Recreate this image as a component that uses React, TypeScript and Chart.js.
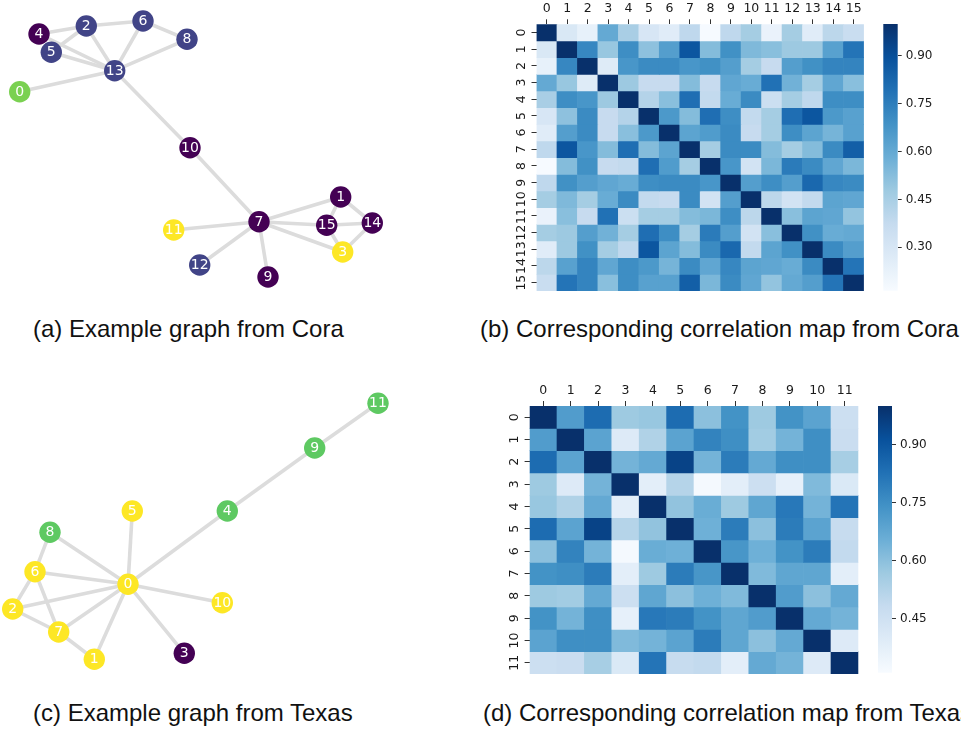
import React, { useEffect, useRef } from 'react';
import { Chart, registerables } from 'chart.js';

Chart.register(...registerables);

// ---------------- DATA ----------------
// Cora example graph (layout coordinates)
const coraNodeIds = ['0', '1', '2', '3', '4', '5', '6', '7', '8', '9', '10', '11', '12', '13', '14', '15'];
const coraNodeX = [19.7, 340.7, 86.3, 342.7, 39, 51.3, 143, 259, 187, 268, 190, 173.7, 199.7, 114.7, 372.3, 326.7];
const coraNodeY = [91.7, 197, 26, 252, 34, 52.3, 21, 221.7, 39.3, 277, 147.7, 230, 265, 70.7, 223, 225.3];
const coraNodeClass = [2, 0, 1, 3, 0, 1, 1, 0, 1, 0, 0, 3, 1, 1, 0, 0];
const coraEdges: [number, number][] = [
  [4, 2], [4, 13], [5, 2], [5, 13], [2, 13], [2, 6], [6, 13], [6, 8], [8, 13], [0, 13],
  [13, 10], [10, 7], [7, 1], [7, 15], [15, 14], [7, 3], [7, 11], [7, 12], [7, 9],
  [1, 15], [1, 14], [14, 3], [15, 3],
];

// Texas example graph (layout coordinates)
const texasNodeIds = ['0', '1', '2', '3', '4', '5', '6', '7', '8', '9', '10', '11'];
const texasNodeX = [128, 94.3, 12.7, 184.3, 227.3, 132.3, 35, 58.7, 50, 314.7, 222.3, 378];
const texasNodeY = [204.3, 279.3, 229, 273.3, 131, 131, 191.7, 252, 152.3, 68, 222.7, 23.3];
const texasNodeClass = [2, 2, 2, 0, 1, 2, 2, 2, 1, 1, 2, 1];
const texasEdges: [number, number][] = [
  [11, 9], [9, 4], [4, 0], [5, 0], [8, 0], [8, 6], [6, 0], [6, 2], [6, 7], [2, 0],
  [2, 7], [7, 0], [7, 1], [1, 0], [0, 10], [0, 3],
];

// Correlation maps
const coraLabels = ['0', '1', '2', '3', '4', '5', '6', '7', '8', '9', '10', '11', '12', '13', '14', '15'];
const coraCorr = [
  [1.00, 0.29, 0.23, 0.60, 0.45, 0.30, 0.26, 0.39, 0.17, 0.39, 0.46, 0.22, 0.46, 0.26, 0.40, 0.36],
  [0.29, 1.00, 0.72, 0.49, 0.70, 0.51, 0.64, 0.88, 0.53, 0.69, 0.54, 0.52, 0.48, 0.48, 0.63, 0.78],
  [0.23, 0.72, 1.00, 0.27, 0.67, 0.71, 0.71, 0.67, 0.69, 0.64, 0.46, 0.37, 0.64, 0.69, 0.73, 0.73],
  [0.60, 0.49, 0.27, 1.00, 0.48, 0.37, 0.37, 0.53, 0.37, 0.61, 0.59, 0.79, 0.57, 0.46, 0.61, 0.52],
  [0.45, 0.70, 0.67, 0.48, 1.00, 0.42, 0.52, 0.80, 0.38, 0.59, 0.71, 0.35, 0.46, 0.39, 0.70, 0.70],
  [0.30, 0.51, 0.71, 0.37, 0.42, 1.00, 0.66, 0.53, 0.80, 0.70, 0.38, 0.46, 0.80, 0.88, 0.66, 0.63],
  [0.26, 0.64, 0.71, 0.37, 0.52, 0.66, 1.00, 0.62, 0.65, 0.71, 0.37, 0.46, 0.70, 0.62, 0.56, 0.63],
  [0.39, 0.88, 0.67, 0.53, 0.80, 0.53, 0.62, 1.00, 0.46, 0.71, 0.71, 0.53, 0.46, 0.53, 0.71, 0.85],
  [0.17, 0.53, 0.69, 0.37, 0.38, 0.80, 0.65, 0.46, 1.00, 0.67, 0.32, 0.55, 0.76, 0.71, 0.61, 0.55],
  [0.39, 0.69, 0.64, 0.61, 0.59, 0.70, 0.71, 0.71, 0.67, 1.00, 0.64, 0.70, 0.64, 0.82, 0.72, 0.71],
  [0.46, 0.54, 0.46, 0.59, 0.71, 0.38, 0.37, 0.71, 0.32, 0.64, 1.00, 0.40, 0.32, 0.38, 0.62, 0.61],
  [0.22, 0.52, 0.37, 0.79, 0.35, 0.46, 0.46, 0.53, 0.55, 0.70, 0.40, 1.00, 0.52, 0.62, 0.61, 0.50],
  [0.46, 0.48, 0.64, 0.57, 0.46, 0.80, 0.70, 0.46, 0.76, 0.64, 0.32, 0.52, 1.00, 0.69, 0.59, 0.60],
  [0.26, 0.48, 0.69, 0.46, 0.39, 0.88, 0.62, 0.53, 0.71, 0.82, 0.38, 0.62, 0.69, 1.00, 0.71, 0.64],
  [0.40, 0.63, 0.73, 0.61, 0.70, 0.66, 0.56, 0.71, 0.61, 0.72, 0.62, 0.61, 0.59, 0.71, 1.00, 0.78],
  [0.36, 0.78, 0.73, 0.52, 0.70, 0.63, 0.63, 0.85, 0.55, 0.71, 0.61, 0.50, 0.60, 0.64, 0.78, 1.00],
];
const coraRange = [0.164, 1.0];
const coraCbarTicks = [0.30, 0.45, 0.60, 0.75, 0.90];

const texasLabels = ['0', '1', '2', '3', '4', '5', '6', '7', '8', '9', '10', '11'];
const texasCorr = [
  [1.00, 0.71, 0.84, 0.57, 0.58, 0.84, 0.60, 0.74, 0.57, 0.74, 0.69, 0.46],
  [0.71, 1.00, 0.69, 0.40, 0.53, 0.69, 0.78, 0.75, 0.56, 0.64, 0.75, 0.47],
  [0.84, 0.69, 1.00, 0.64, 0.67, 0.95, 0.64, 0.80, 0.67, 0.75, 0.75, 0.55],
  [0.57, 0.40, 0.64, 1.00, 0.38, 0.52, 0.32, 0.38, 0.46, 0.37, 0.62, 0.41],
  [0.58, 0.53, 0.67, 0.38, 1.00, 0.59, 0.66, 0.57, 0.68, 0.81, 0.64, 0.82],
  [0.84, 0.69, 0.95, 0.52, 0.59, 1.00, 0.65, 0.80, 0.60, 0.80, 0.69, 0.48],
  [0.60, 0.78, 0.64, 0.32, 0.66, 0.65, 1.00, 0.73, 0.65, 0.74, 0.80, 0.49],
  [0.74, 0.75, 0.80, 0.38, 0.57, 0.80, 0.73, 1.00, 0.62, 0.68, 0.68, 0.38],
  [0.57, 0.56, 0.67, 0.46, 0.68, 0.60, 0.65, 0.62, 1.00, 0.71, 0.60, 0.67],
  [0.74, 0.64, 0.75, 0.37, 0.81, 0.80, 0.74, 0.68, 0.71, 1.00, 0.67, 0.64],
  [0.69, 0.75, 0.75, 0.62, 0.64, 0.69, 0.80, 0.68, 0.60, 0.67, 1.00, 0.40],
  [0.46, 0.47, 0.55, 0.41, 0.82, 0.48, 0.49, 0.38, 0.67, 0.64, 0.40, 1.00],
];
const texasRange = [0.311, 1.0];
const texasCbarTicks = [0.45, 0.60, 0.75, 0.90];

const captions = [
  '(a) Example graph from Cora',
  '(b) Corresponding correlation map from Cora',
  '(c) Example graph from Texas',
  '(d) Corresponding correlation map from Texas',
];

// ---------------- STYLE ----------------
const coraPalette = ['#440154', '#414487', '#7ad151', '#fde725'];
const texasPalette = ['#440154', '#5ec962', '#fde725'];
const BLUES = ['#f7fbff', '#deebf7', '#c6dbef', '#9ecae1', '#6baed6', '#4292c6', '#2171b5', '#08519c', '#08306b'];
const TICK_FONT = { family: '"DejaVu Sans", sans-serif', size: 12.5 };
const CBAR_FONT = { family: '"DejaVu Sans", sans-serif', size: 12 };
const TEXT_COLOR = '#1a1a1a';

function hexToRgb(h: string) {
  const n = parseInt(h.slice(1), 16);
  return [(n >> 16) & 255, (n >> 8) & 255, n & 255];
}
const BLUES_RGB = BLUES.map(hexToRgb);
function blues(t: number) {
  const tt = Math.max(0, Math.min(1, t)) * (BLUES.length - 1);
  const i = Math.min(Math.floor(tt), BLUES.length - 2);
  const f = tt - i;
  const a = BLUES_RGB[i], b = BLUES_RGB[i + 1];
  const c = a.map((v, k) => Math.round(v + (b[k] - v) * f));
  return `rgb(${c[0]},${c[1]},${c[2]})`;
}

// ---------------- CONFIG BUILDERS ----------------
function graphConfig(ids: string[], xs: number[], ys: number[], cls: number[], palette: string[], edges: [number, number][], w: number, h: number): any {
  const edgeSets = edges.map(([a, b]) => ({
    type: 'line',
    data: [{ x: xs[a], y: ys[a] }, { x: xs[b], y: ys[b] }],
    borderColor: '#dcdcdc',
    borderWidth: 3.6,
    pointRadius: 0,
    order: 1,
    clip: false,
  }));
  const nodeSet = {
    type: 'scatter',
    data: xs.map((x, i) => ({ x, y: ys[i] })),
    pointRadius: 10.7,
    pointBackgroundColor: cls.map((c) => palette[c]),
    pointBorderWidth: 0,
    order: 0,
    clip: false,
  };
  const labelPlugin = {
    id: 'nodeLabels',
    afterDatasetsDraw(chart: any) {
      const idx = chart.data.datasets.length - 1;
      const meta = chart.getDatasetMeta(idx);
      const ctx = chart.ctx;
      ctx.save();
      ctx.font = '14px "DejaVu Sans", sans-serif';
      ctx.fillStyle = '#ffffff';
      ctx.textAlign = 'center';
      ctx.textBaseline = 'middle';
      meta.data.forEach((el: any, i: number) => ctx.fillText(ids[i], el.x, el.y + 0.5));
      ctx.restore();
    },
  };
  return {
    type: 'scatter',
    data: { datasets: [...edgeSets, nodeSet] },
    options: {
      animation: false,
      responsive: false,
      events: [],
      layout: { padding: 0, autoPadding: false },
      plugins: { legend: { display: false }, tooltip: { enabled: false } },
      scales: {
        x: { type: 'linear', min: 0, max: w, display: false },
        y: { type: 'linear', min: 0, max: h, reverse: true, display: false },
      },
    },
    plugins: [labelPlugin],
  };
}

function heatmapConfig(labels: string[], matrix: number[][], range: number[], axisW: number, axisH: number, padR: number, padB: number): any {
  const [vmin, vmax] = range;
  const datasets = matrix.map((row, r) => ({
    label: labels[r],
    data: row.map(() => 1),
    backgroundColor: row.map((v) => blues((v - vmin) / (vmax - vmin))),
    borderWidth: 0,
    barPercentage: 1,
    categoryPercentage: 1,
  }));
  const yLabelPlugin = {
    id: 'rowLabels',
    afterDraw(chart: any) {
      const s = chart.scales.y;
      const ctx = chart.ctx;
      ctx.save();
      ctx.font = `${TICK_FONT.size}px ${TICK_FONT.family}`;
      ctx.fillStyle = TEXT_COLOR;
      ctx.textAlign = 'center';
      ctx.textBaseline = 'middle';
      labels.forEach((lab, i) => {
        const y = s.getPixelForValue(i + 0.5);
        ctx.save();
        ctx.translate(s.right - 15, y);
        ctx.rotate(-Math.PI / 2);
        ctx.fillText(lab, 0, 0);
        ctx.restore();
      });
      ctx.restore();
    },
  };
  return {
    type: 'bar',
    data: { labels, datasets },
    options: {
      animation: false,
      responsive: false,
      events: [],
      layout: { padding: { left: 0, top: 0, right: padR, bottom: padB } },
      plugins: { legend: { display: false }, tooltip: { enabled: false } },
      scales: {
        x: {
          type: 'category',
          position: 'top',
          stacked: true,
          offset: true,
          grid: { offset: false, drawOnChartArea: false, drawTicks: true, tickLength: 5, color: '#333', lineWidth: 1 },
          border: { display: false },
          ticks: { font: TICK_FONT, color: TEXT_COLOR, maxRotation: 0, minRotation: 0, autoSkip: false, padding: 3 },
          afterFit(s: any) { s.height = axisH; },
        },
        y: {
          type: 'linear',
          stacked: true,
          min: 0,
          max: labels.length,
          reverse: true,
          grid: { drawOnChartArea: false, drawTicks: true, tickLength: 5, color: '#333', lineWidth: 1 },
          border: { display: false },
          ticks: { display: false },
          afterBuildTicks(s: any) { s.ticks = labels.map((_, i) => ({ value: i + 0.5 })); },
          afterFit(s: any) { s.width = axisW; },
        },
      },
    },
    plugins: [yLabelPlugin],
  };
}

function colorbarConfig(range: number[], ticks: number[], padL: number, padT: number, padB: number, axisW: number): any {
  const [vmin, vmax] = range;
  return {
    type: 'bar',
    data: {
      labels: [''],
      datasets: [{
        data: [[vmin, vmax]],
        backgroundColor: (c: any) => {
          const ca = c.chart.chartArea;
          if (!ca) return BLUES[4];
          const g = c.chart.ctx.createLinearGradient(0, ca.bottom, 0, ca.top);
          BLUES.forEach((col, i) => g.addColorStop(i / (BLUES.length - 1), col));
          return g;
        },
        borderWidth: 0,
        barPercentage: 1,
        categoryPercentage: 1,
      }],
    },
    options: {
      animation: false,
      responsive: false,
      events: [],
      layout: { padding: { left: padL, top: padT, right: 0, bottom: padB } },
      plugins: { legend: { display: false }, tooltip: { enabled: false } },
      scales: {
        x: { display: false },
        y: {
          type: 'linear',
          position: 'right',
          min: vmin,
          max: vmax,
          grid: { drawOnChartArea: false, drawTicks: true, tickLength: 4, color: '#333', lineWidth: 1 },
          border: { display: false },
          ticks: { font: CBAR_FONT, color: TEXT_COLOR, padding: 4, callback: (v: any) => Number(v).toFixed(2) },
          afterBuildTicks(s: any) { s.ticks = ticks.map((v) => ({ value: v })); },
          afterFit(s: any) { s.width = axisW; },
        },
      },
    },
  };
}

// ---------------- COMPONENTS ----------------
function ChartBox({ left, top, width, height, make }: { left: number; top: number; width: number; height: number; make: () => any }) {
  const ref = useRef<HTMLCanvasElement>(null);
  useEffect(() => {
    const chart = new Chart(ref.current as HTMLCanvasElement, make());
    return () => chart.destroy();
  }, []);
  return (
    <canvas
      ref={ref}
      width={width}
      height={height}
      style={{ position: 'absolute', left, top, width, height }}
    />
  );
}

function Caption({ text, left, top }: { text: string; left: number; top: number }) {
  return (
    <div
      style={{
        position: 'absolute',
        left,
        top,
        whiteSpace: 'nowrap',
        fontFamily: '"Liberation Sans", Arial, sans-serif',
        fontSize: 24,
        lineHeight: '28px',
        color: '#111',
      }}
    >
      {text}
    </div>
  );
}

export default function App() {
  return (
    <div style={{ position: 'absolute', left: 0, top: 0, width: 961, height: 729, background: '#fff', overflow: 'hidden' }}>
      <ChartBox left={0} top={0} width={480} height={300}
        make={() => graphConfig(coraNodeIds, coraNodeX, coraNodeY, coraNodeClass, coraPalette, coraEdges, 480, 300)} />
      <ChartBox left={490} top={0} width={380} height={310}
        make={() => heatmapConfig(coraLabels, coraCorr, coraRange, 46.5, 24.3, 6.1, 19)} />
      <ChartBox left={870} top={0} width={91} height={310}
        make={() => colorbarConfig(coraRange, coraCbarTicks, 13.3, 24, 19.3, 63.3)} />

      <ChartBox left={0} top={380} width={480} height={310}
        make={() => graphConfig(texasNodeIds, texasNodeX, texasNodeY, texasNodeClass, texasPalette, texasEdges, 480, 310)} />
      <ChartBox left={480} top={380} width={385} height={310}
        make={() => heatmapConfig(texasLabels, texasCorr, texasRange, 49.6, 26, 6.6, 16)} />
      <ChartBox left={865} top={380} width={96} height={310}
        make={() => colorbarConfig(texasRange, texasCbarTicks, 13, 26, 17.3, 69)} />

      <Caption text={captions[0]} left={33} top={315} />
      <Caption text={captions[1]} left={480} top={315} />
      <Caption text={captions[2]} left={33} top={699} />
      <Caption text={captions[3]} left={483} top={699} />
    </div>
  );
}
